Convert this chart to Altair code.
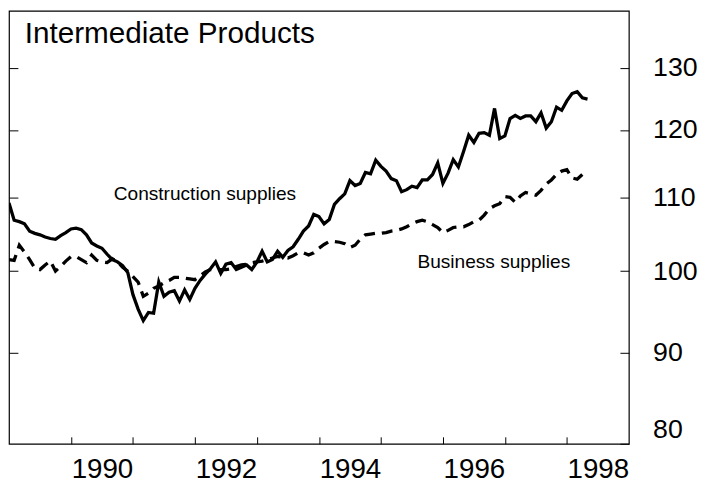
import altair as alt
import pandas as pd

# Monthly index values, starting January 1989 (1992 = 100)
start_year = 1989
construction = [
    109.2, 106.8, 106.6, 106.3, 105.3, 105.0, 104.8, 104.5, 104.3, 104.2, 104.7, 105.1,
    105.6, 105.7, 105.5, 104.8, 103.7, 103.3, 103.0, 102.2, 101.5, 101.2, 100.7, 99.8,
    97.0, 95.2, 93.8, 94.8, 94.7, 98.6, 96.8, 97.3, 97.5, 96.2, 97.6, 96.4,
    97.8, 98.8, 99.6, 100.3, 101.2, 99.7, 100.9, 101.1, 100.2, 100.5, 100.8, 100.2,
    101.2, 102.6, 101.2, 101.5, 102.6, 101.8, 102.7, 103.2, 104.2, 105.3, 106.0, 107.6,
    107.3, 106.3, 106.9, 109.0, 109.8, 110.5, 112.4, 111.7, 112.0, 113.6, 113.4, 115.4,
    114.5, 113.8, 112.7, 112.4, 110.8, 111.1, 111.6, 111.4, 112.5, 112.5, 113.3, 115.0,
    112.0, 113.5, 115.5, 114.4, 116.7, 119.2, 118.1, 119.5, 119.6, 119.2, 123.4, 118.7,
    119.1, 121.8, 122.3, 121.8, 122.2, 122.2, 121.3, 122.7, 120.3, 121.3, 123.6, 123.1,
    124.6, 125.8, 126.1, 125.1, 124.9,
]
business = [
    101.5, 101.4, 103.4, 102.5, 101.5, 100.4, 100.2, 100.8, 101.3, 100.0, 100.6, 101.3,
    101.9, 101.9, 101.5, 101.1, 102.1, 101.4, 101.2, 101.1, 101.6, 101.2, 100.5, 100.0,
    99.3, 98.6, 96.8, 97.2, 97.8, 98.1, 98.5, 98.8, 99.2, 99.2, 99.1, 99.0,
    98.9, 99.4, 99.9, 100.2, 100.2, 100.2, 100.2, 100.3, 100.6, 100.8, 100.9, 101.1,
    101.2, 101.3, 101.5, 101.7, 101.9, 101.8, 101.7, 102.0, 102.4, 102.4, 102.1, 102.4,
    103.0, 103.5, 103.9, 103.9, 103.8, 103.6, 103.1, 103.4, 104.2, 104.8, 104.9, 105.0,
    105.0, 105.1, 105.3, 105.4, 105.6, 105.9, 106.3, 106.6, 106.8, 106.6, 106.2, 105.8,
    105.1, 105.4, 105.8, 105.9, 105.9, 106.2, 106.6, 106.8, 107.5, 108.4, 108.8, 109.1,
    110.1, 110.0, 109.3, 110.2, 110.7, 110.5, 110.3, 111.0, 111.9, 112.5, 113.3, 113.8,
    114.0, 112.8, 112.6, 113.3, 113.4,
]

tick_years = [1990, 1991, 1992, 1993, 1994, 1995, 1996, 1997, 1998]
label_years = [1990, 1992, 1994, 1996, 1998]
y_ticks = [80, 90, 100, 110, 120, 130]

annotation_text = ["Construction supplies", "Business supplies"]
annotation_x = [1990.69, 1995.59]
annotation_y = [109.6, 100.4]

chart_title = "Intermediate Products"

FONT = "Liberation Sans"
W, H = 627, 438

t = [start_year + i / 12 for i in range(len(construction))]
df = pd.DataFrame({"t": t, "construction": construction, "business": business})
ann = pd.DataFrame({"x": annotation_x, "y": annotation_y, "label": annotation_text})

xscale = alt.Scale(domain=[1989, 1999], nice=False, zero=False)
yscale = alt.Scale(type="log", domain=[80, 140], nice=False)

x_values = sorted(tick_years + [y + 0.5 for y in label_years])
xaxis = alt.Axis(
    values=x_values,
    title=None,
    grid=False,
    domain=False,
    tickSize=7,
    offset=-7,
    tickColor="black",
    tickWidth=1,
    tickOpacity={"condition": {"test": "datum.value % 1 == 0", "value": 1}, "value": 0},
    labelExpr="datum.value % 1 == 0.5 ? floor(datum.value) : ''",
    labelFont=FONT,
    labelFontSize=28,
    labelColor="black",
    labelPadding=12,
    labelFlush=False,
    labelOverlap=False,
)

right_axis = alt.Axis(
    orient="right",
    values=y_ticks,
    title=None,
    grid=False,
    domain=False,
    tickSize=9,
    offset=-9,
    tickColor="black",
    labelExpr="datum.value",
    labelFont=FONT,
    labelFontSize=27,
    labelColor="black",
    labelPadding=24,
    labelOverlap=False,
    labelFlush=True,
)

left_axis = alt.Axis(
    orient="left",
    values=y_ticks[1:],
    title=None,
    grid=False,
    domain=False,
    tickSize=9,
    offset=-9,
    tickColor="black",
    labels=False,
)

base = alt.Chart(df)

line_c = base.mark_line(color="black", strokeWidth=3.3, clip=True).encode(
    x=alt.X("t:Q", scale=xscale, axis=xaxis),
    y=alt.Y("construction:Q", scale=yscale, axis=right_axis),
)

line_b = base.mark_line(color="black", strokeWidth=3.3, strokeDash=[11, 7], clip=True).encode(
    x=alt.X("t:Q", scale=xscale, axis=xaxis),
    y=alt.Y("business:Q", scale=yscale, axis=left_axis),
)

labels = alt.Chart(ann).mark_text(
    align="left", baseline="alphabetic", font=FONT, fontSize=19.3, color="black"
).encode(
    x=alt.X("x:Q", scale=xscale, axis=xaxis),
    y=alt.Y("y:Q", scale=yscale, axis=None),
    text="label:N",
)

title = alt.Chart(pd.DataFrame({"label": [chart_title]})).mark_text(
    align="left", baseline="alphabetic", font=FONT, fontSize=30, color="black"
).encode(
    x=alt.value(16),
    y=alt.value(33),
    text="label:N",
)

chart = (
    alt.layer(line_c, line_b, labels, title)
    .resolve_axis(y="independent")
    .properties(
        width=W,
        height=H,
        background="white",
        padding={"left": 0, "top": 0, "right": 5, "bottom": 5},
    )
    .configure_view(stroke="black", strokeWidth=1.2)
)

chart.save("out.html", embed_options={"renderer": "svg", "actions": False})
